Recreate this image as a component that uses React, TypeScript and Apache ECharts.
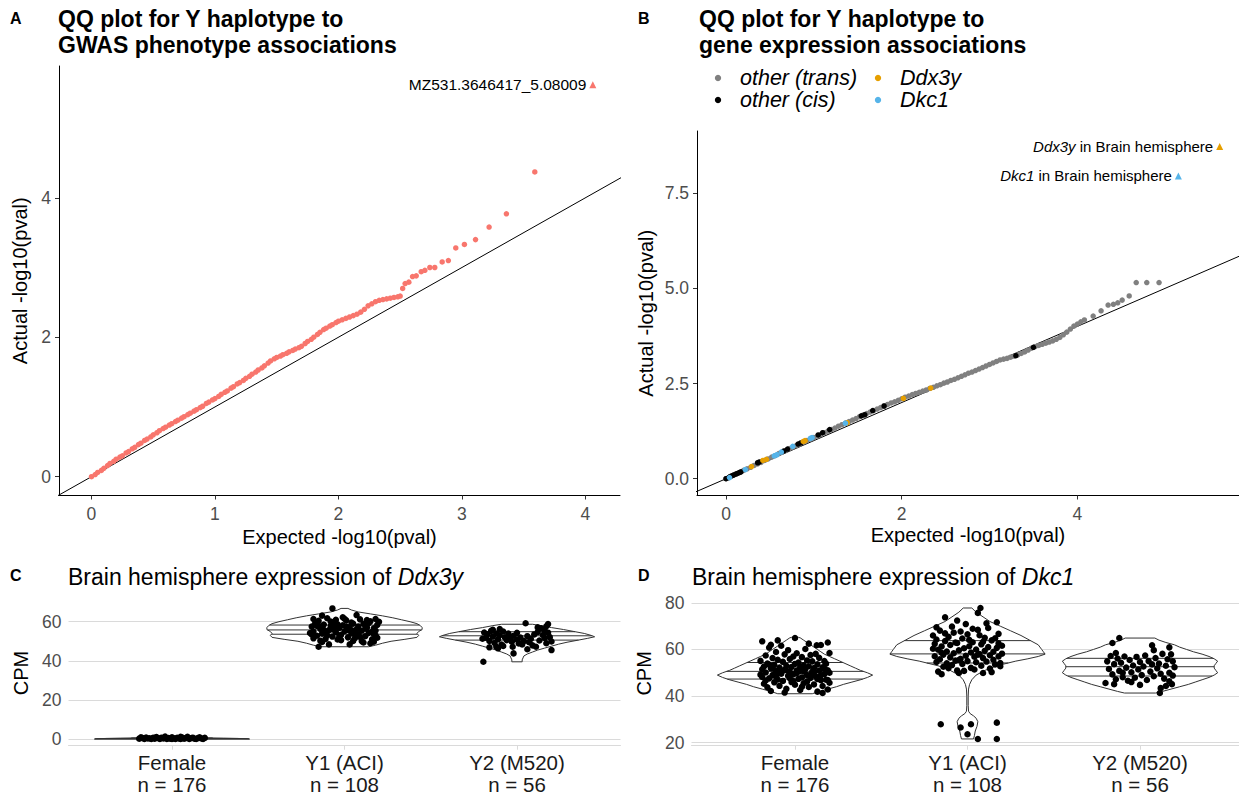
import React, { useEffect, useRef } from "react";
import * as echarts from "echarts";

const FONT = '"Liberation Sans", Arial, Helvetica, sans-serif';

// ---------- Panel A: QQ plot, GWAS phenotypes ([expected, actual]) ----------
const qqA: number[][] = [
  [0.00, 0.00], [0.03, 0.03], [0.05, 0.06], [0.08, 0.09], [0.10, 0.12], [0.13, 0.16], [0.15, 0.19], [0.18, 0.22],
  [0.20, 0.25], [0.23, 0.28], [0.25, 0.30], [0.28, 0.34], [0.30, 0.36], [0.33, 0.40], [0.35, 0.42], [0.38, 0.46],
  [0.40, 0.48], [0.43, 0.52], [0.45, 0.54], [0.48, 0.57], [0.50, 0.60], [0.53, 0.63], [0.55, 0.66], [0.58, 0.69],
  [0.60, 0.71], [0.63, 0.74], [0.65, 0.76], [0.68, 0.79], [0.70, 0.81], [0.73, 0.84], [0.75, 0.86], [0.78, 0.89],
  [0.80, 0.91], [0.83, 0.94], [0.85, 0.96], [0.88, 0.99], [0.90, 1.01], [0.93, 1.05], [0.95, 1.07], [0.98, 1.10],
  [1.00, 1.12], [1.03, 1.15], [1.05, 1.18], [1.08, 1.21], [1.10, 1.23], [1.13, 1.27], [1.15, 1.29], [1.18, 1.33],
  [1.20, 1.35], [1.23, 1.38], [1.25, 1.41], [1.28, 1.44], [1.30, 1.47], [1.33, 1.50], [1.35, 1.53], [1.38, 1.56],
  [1.40, 1.59], [1.43, 1.63], [1.45, 1.66], [1.48, 1.69], [1.50, 1.71], [1.53, 1.73], [1.55, 1.75], [1.58, 1.77],
  [1.60, 1.79], [1.63, 1.81], [1.65, 1.83], [1.68, 1.85], [1.70, 1.87], [1.73, 1.91], [1.75, 1.94], [1.78, 1.97],
  [1.80, 2.00], [1.83, 2.04], [1.85, 2.07], [1.88, 2.11], [1.90, 2.13], [1.93, 2.16], [1.95, 2.18], [1.98, 2.21],
  [2.00, 2.23], [2.03, 2.25], [2.06, 2.27], [2.09, 2.29], [2.12, 2.31], [2.15, 2.33], [2.18, 2.36], [2.21, 2.40],
  [2.24, 2.45], [2.27, 2.48], [2.30, 2.51], [2.33, 2.53], [2.36, 2.54], [2.39, 2.55], [2.42, 2.56], [2.45, 2.57],
  [2.48, 2.58], [2.50, 2.59],
  [2.52, 2.70], [2.54, 2.77], [2.57, 2.79], [2.60, 2.87], [2.63, 2.88], [2.67, 2.94], [2.70, 2.96], [2.74, 3.00],
  [2.78, 3.00], [2.84, 3.08], [2.89, 3.10], [2.95, 3.28], [3.02, 3.33], [3.11, 3.40], [3.22, 3.58], [3.36, 3.77],
  [3.59, 4.37],
];
const topA: number[] = [4.06, 5.62];
const topALabel = "MZ531.3646417_5.08009";

// ---------- Panel B: QQ plot, gene expression ----------
const qqBTrans: number[][] = [
  [0.00, 0.00], [0.04, 0.04], [0.08, 0.09], [0.12, 0.13], [0.16, 0.17], [0.20, 0.22], [0.24, 0.26], [0.28, 0.30],
  [0.32, 0.35], [0.36, 0.39], [0.40, 0.43], [0.44, 0.48], [0.48, 0.52], [0.52, 0.57], [0.56, 0.61], [0.60, 0.66],
  [0.64, 0.70], [0.68, 0.74], [0.72, 0.79], [0.76, 0.83], [0.80, 0.87], [0.84, 0.91], [0.88, 0.96], [0.92, 1.00],
  [0.96, 1.04], [1.00, 1.08], [1.04, 1.12], [1.08, 1.16], [1.12, 1.21], [1.16, 1.25], [1.20, 1.29], [1.24, 1.33],
  [1.28, 1.38], [1.32, 1.42], [1.36, 1.46], [1.40, 1.50], [1.44, 1.54], [1.48, 1.58], [1.52, 1.63], [1.56, 1.67],
  [1.60, 1.71], [1.64, 1.75], [1.68, 1.79], [1.72, 1.83], [1.76, 1.87], [1.80, 1.91], [1.84, 1.95], [1.88, 1.99],
  [1.92, 2.02], [1.96, 2.06], [2.00, 2.10], [2.04, 2.14], [2.08, 2.17], [2.12, 2.21], [2.16, 2.24], [2.20, 2.27],
  [2.24, 2.30], [2.28, 2.33], [2.32, 2.37], [2.36, 2.40], [2.40, 2.44], [2.44, 2.47], [2.48, 2.51], [2.52, 2.54],
  [2.56, 2.58], [2.60, 2.61], [2.64, 2.65], [2.68, 2.69], [2.72, 2.73], [2.76, 2.77], [2.80, 2.80], [2.84, 2.84],
  [2.88, 2.88], [2.92, 2.92], [2.96, 2.96], [3.00, 3.00], [3.04, 3.04], [3.08, 3.08], [3.12, 3.12], [3.16, 3.14],
  [3.20, 3.16], [3.24, 3.19], [3.28, 3.22], [3.32, 3.25], [3.36, 3.29], [3.40, 3.33], [3.44, 3.38], [3.48, 3.43],
  [3.52, 3.47], [3.56, 3.50], [3.60, 3.53], [3.64, 3.56], [3.68, 3.59], [3.72, 3.62], [3.76, 3.66], [3.80, 3.71],
  [3.84, 3.78], [3.88, 3.85], [3.92, 3.93], [3.96, 4.01], [4.00, 4.06], [4.04, 4.12], [4.08, 4.17],
  [4.18, 4.27], [4.27, 4.41], [4.35, 4.56], [4.41, 4.58], [4.46, 4.62], [4.51, 4.69], [4.59, 4.80],
  [4.67, 5.15], [4.79, 5.15], [4.93, 5.15],
];
const qqBCis: number[][] = [
  [0.00, 0.00], [0.03, 0.03], [0.05, 0.06], [0.07, 0.08], [0.09, 0.10], [0.11, 0.12], [0.13, 0.14], [0.15, 0.16],
  [0.17, 0.18], [0.36, 0.42], [0.38, 0.44], [0.66, 0.73], [0.70, 0.78], [0.82, 0.91], [0.85, 0.94], [1.05, 1.15],
  [1.10, 1.21], [1.18, 1.29], [1.54, 1.65], [1.58, 1.68], [1.67, 1.79], [1.80, 1.91], [3.30, 3.23], [3.50, 3.45],
];
const qqBDdx3y: number[][] = [
  [0.29, 0.32], [0.42, 0.48], [0.46, 0.51], [0.88, 0.98], [0.90, 1.00], [1.38, 1.47], [2.02, 2.11], [2.33, 2.38],
];
const qqBDkc1: number[][] = [
  [0.04, 0.03], [0.22, 0.24], [0.55, 0.60], [0.58, 0.63], [0.63, 0.70], [0.76, 0.85], [0.96, 1.06], [0.98, 1.08],
  [1.36, 1.46],
];
const topBDdx3y: number[] = [5.62, 8.72];
const topBDkc1: number[] = [5.15, 7.95];

// ---------- Panels C / D: violin + jitter ----------
const groups = ["Female", "Y1 (ACI)", "Y2 (M520)"];
const groupN = [176, 108, 56];

// violin outlines: [CPM value, half width (x units)]
const violinC: number[][][] = [
  [[0, 0.45], [0.2, 0.44], [0.45, 0.3], [0.7, 0.14], [1.0, 0.05], [1.4, 0.01]],
  [[47.2, 0.14], [48, 0.18], [49, 0.22], [50, 0.27], [51, 0.35], [52, 0.42], [53, 0.43], [54, 0.42], [55, 0.43],
   [56, 0.45], [57, 0.45], [58, 0.44], [59, 0.42], [60, 0.38], [61, 0.33], [62, 0.28], [63, 0.22], [64, 0.15],
   [65, 0.08], [66, 0.04], [66.8, 0.02]],
  [[39.5, 0.03], [40.5, 0.03], [41.5, 0.035], [42.5, 0.04], [43.5, 0.06], [44.5, 0.09], [45.5, 0.12], [46.5, 0.16],
   [47.5, 0.2], [48.5, 0.24], [49.5, 0.29], [50.5, 0.35], [51.5, 0.41], [52.3, 0.45], [53, 0.43], [54, 0.39],
   [55, 0.33], [56, 0.27], [57, 0.2], [58, 0.14], [58.7, 0.09]],
];
const quantC: number[][] = [[0.1, 0.3, 0.55], [53.6, 55.8, 58.3], [50.6, 52.8, 54.9]];

const violinD: number[][][] = [
  [[41, 0.1], [42, 0.14], [43, 0.19], [44, 0.24], [45, 0.28], [46, 0.33], [47, 0.38], [48, 0.42], [49, 0.45],
   [50, 0.42], [51, 0.38], [52, 0.35], [53, 0.32], [54, 0.29], [55, 0.26], [56, 0.23], [57, 0.2], [58, 0.17],
   [59, 0.15], [60, 0.13], [61, 0.11], [62, 0.09], [63, 0.07], [64, 0.05], [65, 0.03], [65.2, 0.02]],
  [[21.6, 0.035], [23, 0.04], [25, 0.045], [27, 0.055], [29, 0.06], [30.5, 0.05], [31.5, 0.035], [32.5, 0.015],
   [33.5, 0.006], [36, 0.004], [40, 0.004], [43, 0.006], [45, 0.012], [47, 0.025], [49, 0.05], [51, 0.1],
   [53, 0.17], [55, 0.28], [56, 0.35], [57, 0.41], [58, 0.45], [59, 0.44], [60, 0.43], [62, 0.41], [64, 0.36],
   [66, 0.31], [68, 0.25], [70, 0.19], [72, 0.13], [74, 0.09], [76, 0.05], [77.8, 0.025]],
  [[41.3, 0.09], [42, 0.13], [43, 0.18], [44, 0.23], [45, 0.28], [46, 0.32], [47, 0.36], [48, 0.4], [49, 0.43],
   [50, 0.45], [51, 0.44], [52, 0.43], [53, 0.43], [54, 0.44], [55, 0.45], [56, 0.43], [57, 0.4], [58, 0.36],
   [59, 0.31], [60, 0.27], [61, 0.23], [62, 0.2], [63, 0.15], [64, 0.11], [64.9, 0.086]],
];
const quantD: number[][] = [[47.3, 50.6, 54.4], [54.2, 58.1, 63.8], [48.6, 52.6, 56.2]];

// jittered points: [x offset from group centre, CPM]
const femaleC: number[][] = [
  [-0.19, 0.2], [-0.17, 0.5], [-0.16, 0.1], [-0.15, 0.8], [-0.14, 0.3], [-0.12, 0.0], [-0.11, 0.6], [-0.1, 0.2],
  [-0.09, 1.0], [-0.08, 0.4], [-0.07, 0.1], [-0.06, 0.7], [-0.05, 0.3], [-0.04, 1.3], [-0.03, 0.0], [-0.02, 0.5],
  [-0.01, 0.2], [0.0, 0.9], [0.01, 0.4], [0.02, 0.1], [0.03, 0.6], [0.04, 0.3], [0.05, 0.0], [0.06, 0.8],
  [0.07, 0.2], [0.08, 0.5], [0.09, 1.1], [0.1, 0.1], [0.11, 0.4], [0.12, 0.7], [0.13, 0.2], [0.14, 0.0],
  [0.15, 0.5], [0.16, 0.9], [0.17, 0.3], [0.18, 0.1], [0.19, 0.6], [-0.18, 0.9], [-0.13, 0.4], [0.0, 0.0],
  [0.05, 1.2], [-0.1, 0.6],
];
const y1C: number[][] = [
  [-0.07, 66.8], [-0.15, 47.2], [-0.09, 48.4], [0.03, 48.4], [-0.18, 61.4], [-0.13, 63.1], [0.07, 63.4], [0.18, 61.4],
  [0.2, 60.0], [0.15, 49.0], [0.17, 49.8],
  [-0.19, 57.5], [-0.18, 55.0], [-0.17, 59.2], [-0.16, 52.8], [-0.15, 60.5], [-0.14, 56.3], [-0.13, 53.9], [-0.12, 58.6],
  [-0.11, 51.2], [-0.1, 61.8], [-0.09, 55.7], [-0.08, 57.9], [-0.07, 52.4], [-0.06, 59.8], [-0.05, 54.6], [-0.04, 50.9],
  [-0.03, 56.8], [-0.02, 53.3], [-0.01, 58.2], [0.0, 55.1], [0.01, 60.7], [0.02, 52.0], [0.03, 57.3], [0.04, 54.0],
  [0.05, 59.0], [0.06, 51.6], [0.07, 56.1], [0.08, 53.6], [0.09, 61.2], [0.1, 55.4], [0.11, 58.9], [0.12, 52.6],
  [0.13, 57.0], [0.14, 54.3], [0.15, 60.2], [0.16, 51.0], [0.17, 56.6], [0.18, 53.1], [0.19, 58.4],
  [-0.2, 54.2], [-0.18, 51.5], [-0.16, 57.8], [-0.14, 50.3], [-0.12, 55.9], [-0.1, 53.0], [-0.08, 60.1], [-0.06, 56.9],
  [-0.04, 58.7], [-0.02, 50.6], [0.0, 61.5], [0.02, 55.8], [0.04, 59.6], [0.06, 53.8], [0.08, 57.6], [0.1, 50.1],
  [0.12, 56.4], [0.14, 59.3], [0.16, 54.8], [0.18, 55.5],
  [-0.19, 53.5], [-0.15, 58.0], [-0.11, 54.9], [-0.07, 56.0], [-0.03, 52.7], [0.01, 57.5], [0.05, 55.3], [0.09, 52.2],
  [0.13, 60.9], [0.17, 53.7], [-0.13, 49.6], [-0.01, 62.3], [0.11, 49.4], [0.19, 51.8], [-0.05, 61.0], [0.05, 50.2],
];
const y2C: number[][] = [
  [-0.195, 39.5], [0.05, 59.2], [0.12, 57.1], [0.18, 58.8], [0.16, 55.8], [0.15, 53.2], [0.17, 49.0], [0.2, 45.5],
  [-0.02, 43.8], [-0.025, 47.2], [0.03, 48.4], [0.11, 47.2], [-0.11, 46.4], [-0.12, 47.2],
  [-0.19, 54.5], [-0.18, 51.8], [-0.17, 53.6], [-0.16, 50.2], [-0.15, 55.3], [-0.14, 52.4], [-0.13, 49.1], [-0.12, 54.0],
  [-0.11, 51.0], [-0.1, 53.1], [-0.09, 48.3], [-0.08, 55.0], [-0.07, 52.0], [-0.06, 50.6], [-0.05, 53.9], [-0.04, 51.5],
  [-0.03, 49.8], [-0.02, 52.8], [0.0, 50.9], [0.01, 48.9], [0.02, 51.9], [0.04, 50.1], [0.06, 52.6], [0.07, 49.5],
  [0.08, 51.2], [0.09, 47.9], [0.1, 53.5], [0.13, 50.4], [0.14, 56.6], [0.16, 51.7], [0.18, 54.4], [0.19, 52.1],
  [-0.2, 51.3], [-0.16, 46.9], [-0.14, 55.9], [-0.08, 47.6], [0.0, 54.3], [0.06, 45.9], [0.12, 54.7], [0.17, 57.7],
  [0.2, 49.9], [-0.1, 56.2],
];
const femaleD: number[][] = [
  [-0.19, 63.5], [0.0, 64.9], [0.19, 63.0], [-0.1, 63.9], [0.126, 61.8], [0.2, 58.5],
  [-0.2, 55.1], [-0.19, 48.2], [-0.18, 52.7], [-0.18, 45.3], [-0.17, 57.4], [-0.17, 50.1], [-0.16, 43.8], [-0.16, 54.0],
  [-0.15, 47.6], [-0.15, 60.8], [-0.14, 51.9], [-0.14, 42.2], [-0.13, 56.3], [-0.13, 49.0], [-0.12, 53.4], [-0.12, 45.9],
  [-0.11, 58.9], [-0.11, 50.7], [-0.1, 47.1], [-0.1, 55.6], [-0.09, 52.2], [-0.09, 44.4], [-0.08, 61.6], [-0.08, 49.6],
  [-0.07, 54.7], [-0.07, 46.5], [-0.06, 51.3], [-0.06, 57.9], [-0.05, 43.1], [-0.05, 53.0], [-0.04, 48.7], [-0.04, 59.7],
  [-0.03, 50.4], [-0.03, 55.9], [-0.02, 46.0], [-0.02, 52.5], [-0.01, 57.0], [-0.01, 49.3], [0.0, 53.8], [0.0, 44.9],
  [0.01, 51.0], [0.01, 58.4], [0.02, 47.4], [0.02, 54.4], [0.03, 42.6], [0.03, 50.8], [0.04, 56.7], [0.04, 48.0],
  [0.05, 53.2], [0.05, 45.5], [0.06, 60.2], [0.06, 51.6], [0.07, 49.0], [0.07, 55.3], [0.08, 43.9], [0.08, 52.8],
  [0.09, 57.6], [0.09, 47.8], [0.1, 50.5], [0.1, 54.9], [0.11, 45.0], [0.11, 52.0], [0.12, 58.1], [0.12, 48.5],
  [0.13, 53.6], [0.13, 41.9], [0.14, 50.9], [0.14, 56.4], [0.15, 46.8], [0.15, 61.9], [0.16, 52.3], [0.16, 44.3],
  [0.17, 55.0], [0.17, 49.4], [0.18, 47.0], [0.18, 53.9], [0.19, 51.1], [0.19, 42.8], [0.2, 50.0], [0.2, 45.7],
  [-0.19, 51.5], [-0.15, 53.5], [-0.11, 48.4], [-0.07, 50.9], [-0.03, 47.7], [0.01, 49.8], [0.05, 50.6], [0.09, 49.1],
  [0.13, 47.3], [0.17, 51.8], [-0.17, 46.7], [-0.13, 52.0], [-0.09, 49.9], [-0.05, 51.1], [-0.01, 46.4], [0.03, 52.4],
  [0.07, 46.2], [0.11, 50.2], [0.15, 48.9], [0.19, 46.9], [-0.14, 62.0], [0.08, 62.5], [-0.06, 41.5], [0.16, 41.3],
  [-0.2, 49.2], [0.04, 44.0],
];
const y1D: number[][] = [
  [-0.155, 27.9], [-0.04, 26.5], [0.0, 23.6], [0.02, 27.9], [0.06, 21.6], [0.17, 28.6], [0.17, 21.6],
  [0.075, 77.8], [0.06, 75.7], [-0.13, 73.8], [-0.06, 72.4], [0.17, 71.7], [0.12, 69.2], [0.18, 66.7], [-0.18, 69.5],
  [-0.15, 49.4], [-0.05, 49.9], [0.09, 49.9],
  [-0.2, 66.0], [-0.19, 62.4], [-0.19, 57.1], [-0.18, 64.3], [-0.18, 54.6], [-0.17, 59.9], [-0.16, 68.1], [-0.16, 55.8],
  [-0.15, 61.3], [-0.14, 57.8], [-0.14, 52.6], [-0.13, 63.6], [-0.12, 59.1], [-0.12, 54.1], [-0.11, 65.4], [-0.1, 56.6],
  [-0.1, 61.9], [-0.09, 53.3], [-0.08, 58.4], [-0.08, 67.2], [-0.07, 55.2], [-0.06, 62.8], [-0.06, 51.0], [-0.05, 59.6],
  [-0.04, 56.0], [-0.03, 64.7], [-0.03, 53.8], [-0.02, 60.5], [-0.01, 57.3], [0.0, 66.5], [0.0, 55.0], [0.01, 61.4],
  [0.02, 58.7], [0.02, 52.1], [0.03, 63.1], [0.04, 56.9], [0.05, 60.0], [0.05, 54.5], [0.06, 68.4], [0.07, 58.0],
  [0.08, 62.2], [0.08, 53.0], [0.09, 56.3], [0.1, 65.0], [0.1, 59.4], [0.11, 54.8], [0.12, 61.0], [0.13, 57.5],
  [0.13, 51.8], [0.14, 63.9], [0.15, 55.6], [0.15, 59.0], [0.16, 53.6], [0.17, 60.7], [0.18, 57.0], [0.18, 62.6],
  [0.19, 54.2], [0.2, 58.2], [-0.17, 50.5], [-0.11, 52.0], [-0.02, 50.8], [0.04, 51.4], [0.14, 50.3], [0.19, 52.8],
  [-0.09, 69.8], [-0.01, 70.9], [0.03, 68.9], [0.11, 71.2], [-0.13, 66.9], [-0.04, 67.7], [0.07, 66.1], [0.16, 64.8],
  [-0.2, 60.3], [0.2, 61.6], [-0.07, 63.0], [0.01, 64.1], [0.09, 63.3], [-0.15, 58.6], [0.06, 57.8], [-0.05, 55.5],
];
const y2D: number[][] = [
  [-0.12, 64.9], [-0.16, 62.8], [0.07, 61.8], [0.17, 60.9], [-0.2, 45.6], [-0.15, 45.1], [0.115, 41.3], [0.12, 43.4],
  [0.185, 45.1],
  [-0.19, 54.9], [-0.18, 51.6], [-0.17, 57.2], [-0.16, 49.3], [-0.15, 53.7], [-0.14, 47.2], [-0.13, 56.1], [-0.12, 50.8],
  [-0.11, 54.3], [-0.1, 48.1], [-0.09, 57.0], [-0.08, 52.2], [-0.07, 46.6], [-0.06, 55.5], [-0.05, 50.2], [-0.04, 53.1],
  [-0.03, 47.9], [-0.02, 56.8], [-0.01, 51.4], [0.0, 54.6], [0.01, 49.0], [0.02, 52.7], [0.03, 57.4], [0.04, 46.9],
  [0.05, 55.0], [0.06, 50.5], [0.07, 53.6], [0.08, 48.5], [0.09, 56.3], [0.1, 51.9], [0.11, 54.0], [0.12, 49.6],
  [0.13, 58.1], [0.14, 47.5], [0.15, 53.0], [0.16, 55.8], [0.17, 50.0], [0.18, 57.9], [0.19, 48.8], [0.2, 52.4],
  [-0.14, 58.5], [0.0, 44.8], [0.15, 44.3], [-0.05, 46.0], [0.08, 59.7], [0.19, 54.9], [0.17, 46.3], [-0.1, 50.0],
];
const pointsC = [femaleC, y1C, y2C];
const pointsD = [femaleD, y1D, y2D];

const qqTicksA = [0, 1, 2, 3, 4];
const qqYTicksA = [0, 2, 4];
const qqTicksB = [0, 2, 4];
const qqYTicksB = [0, 2.5, 5, 7.5];
const cpmTicksC = [0, 20, 40, 60];
const cpmTicksD = [20, 40, 60, 80];

const COL_A = "#F8766D";
const COL_TRANS = "#808080";
const COL_CIS = "#000000";
const COL_DDX = "#E69F00";
const COL_DKC = "#56B4E9";

function interpWidth(prof: number[][], q: number): number {
  for (let k = 0; k < prof.length - 1; k++) {
    const [v0, w0] = prof[k];
    const [v1, w1] = prof[k + 1];
    if (q >= v0 && q <= v1) return w0 + ((w1 - w0) * (q - v0)) / (v1 - v0);
  }
  return 0;
}

function violinRender(profiles: number[][][], quants: number[][]) {
  return (params: any, api: any) => {
    const i = params.dataIndex;
    const c = api.value(0);
    const prof = profiles[i];
    const right = prof.map(([v, w]) => api.coord([c + w, v]));
    const left = prof.slice().reverse().map(([v, w]) => api.coord([c - w, v]));
    const children: any[] = [
      {
        type: "polygon",
        shape: { points: right.concat(left) },
        style: { fill: "#ffffff", stroke: "#333333", lineWidth: 1 },
      },
    ];
    quants[i].forEach((q) => {
      const w = interpWidth(prof, q);
      const p1 = api.coord([c - w, q]);
      const p2 = api.coord([c + w, q]);
      children.push({
        type: "line",
        shape: { x1: p1[0], y1: p1[1], x2: p2[0], y2: p2[1] },
        style: { stroke: "#333333", lineWidth: 1 },
      });
    });
    return { type: "group", children };
  };
}

function jitter(pts: number[][][]): number[][] {
  const out: number[][] = [];
  pts.forEach((g, gi) => g.forEach(([dx, v]) => out.push([gi + 1 + dx, v])));
  return out;
}

const TICK_FS = 17.5;
const AXTITLE_FS = 20;

function qqX(gi: number, min: number, max: number, ticks: number[]) {
  return {
    type: "value", gridIndex: gi, min, max,
    axisLine: { show: true, onZero: false, lineStyle: { color: "#000", width: 1 } },
    axisTick: { show: true, length: 4, customValues: ticks, lineStyle: { color: "#333", width: 1 } },
    axisLabel: { customValues: ticks, fontSize: TICK_FS, color: "#4D4D4D", margin: 9, fontFamily: FONT },
    splitLine: { show: false },
    name: "Expected -log10(pval)", nameLocation: "middle", nameGap: 29,
    nameTextStyle: { fontSize: AXTITLE_FS, color: "#000", fontFamily: FONT },
  };
}
function qqY(gi: number, min: number, max: number, ticks: number[], fmt: (v: number) => string, gap: number) {
  return {
    type: "value", gridIndex: gi, min, max,
    axisLine: { show: true, onZero: false, lineStyle: { color: "#000", width: 1 } },
    axisTick: { show: true, length: 4, customValues: ticks, lineStyle: { color: "#333", width: 1 } },
    axisLabel: { customValues: ticks, formatter: fmt, fontSize: TICK_FS, color: "#4D4D4D", margin: 8, fontFamily: FONT },
    splitLine: { show: false },
    name: "Actual -log10(pval)", nameLocation: "middle", nameGap: gap,
    nameTextStyle: { fontSize: AXTITLE_FS, color: "#000", fontFamily: FONT },
  };
}
function catX(gi: number) {
  return {
    type: "value", gridIndex: gi, min: 0.4, max: 3.6,
    axisLine: { show: true, onZero: false, lineStyle: { color: "#DADADA", width: 1 } },
    axisTick: { show: true, length: 4, customValues: [1, 2, 3], lineStyle: { color: "#DADADA", width: 1 } },
    axisLabel: {
      customValues: [1, 2, 3],
      formatter: (v: number) => `${groups[Math.round(v) - 1]}\nn = ${groupN[Math.round(v) - 1]}`,
      fontSize: 20.5, lineHeight: 22, color: "#1A1A1A", margin: 6, fontFamily: FONT,
    },
    splitLine: { show: false },
  };
}
function cpmY(gi: number, min: number, max: number, ticks: number[]) {
  return {
    type: "value", gridIndex: gi, min, max,
    axisLine: { show: false },
    axisTick: { show: false, customValues: ticks },
    axisLabel: { customValues: ticks, fontSize: TICK_FS, color: "#4D4D4D", margin: 7, fontFamily: FONT },
    splitLine: { show: true, lineStyle: { color: "#DADADA", width: 1 } },
    name: "CPM", nameLocation: "middle", nameGap: 38,
    nameTextStyle: { fontSize: 20, color: "#000", fontFamily: FONT },
  };
}

function txt(x: number, y: number, text: string, extra: any = {}) {
  return {
    type: "text", x, y, silent: true,
    style: { text, fontFamily: FONT, fill: "#000", verticalAlign: "middle", ...extra },
  };
}

function buildOption(): any {
  const diag = [[-1, -1], [10, 10]];
  const dot = (color: string) => ({ color, opacity: 1 });
  return {
    animation: false,
    backgroundColor: "#ffffff",
    textStyle: { fontFamily: FONT },
    grid: [
      { left: 59, top: 66, width: 561, height: 429.5, outerBoundsMode: "none" },
      { left: 697, top: 131, width: 542, height: 364.5, outerBoundsMode: "none" },
      { left: 68.5, top: 600.4, width: 552, height: 145.3, outerBoundsMode: "none" },
      { left: 691.5, top: 601, width: 552, height: 144.7, outerBoundsMode: "none" },
    ],
    xAxis: [
      qqX(0, -0.263, 4.28, qqTicksA),
      qqX(1, -0.33, 5.84, qqTicksB),
      catX(2),
      catX(3),
    ],
    yAxis: [
      qqY(0, -0.27, 5.89, qqYTicksA, (v: number) => String(v), 29),
      qqY(1, -0.44, 9.13, qqYTicksB, (v: number) => v.toFixed(1), 41),
      cpmY(2, -3.4, 70.9, cpmTicksC),
      cpmY(3, 18.7, 80.8, cpmTicksD),
    ],
    series: [
      // Panel A
      { type: "line", xAxisIndex: 0, yAxisIndex: 0, data: diag, symbol: "none", clip: true,
        lineStyle: { color: "#000", width: 1 }, z: 1, silent: true },
      { type: "scatter", xAxisIndex: 0, yAxisIndex: 0, data: qqA, symbolSize: 5.5,
        itemStyle: dot(COL_A), z: 3, silent: true },
      { type: "scatter", xAxisIndex: 0, yAxisIndex: 0, data: [topA], symbol: "triangle", symbolSize: 7,
        itemStyle: dot(COL_A), z: 3, silent: true,
        label: { show: true, position: "left", distance: 3, formatter: topALabel, fontSize: 15.5, color: "#000", fontFamily: FONT } },
      // Panel B
      { type: "line", xAxisIndex: 1, yAxisIndex: 1, data: diag, symbol: "none", clip: true,
        lineStyle: { color: "#000", width: 1 }, z: 1, silent: true },
      { type: "scatter", xAxisIndex: 1, yAxisIndex: 1, data: qqBTrans, symbolSize: 5.5,
        itemStyle: dot(COL_TRANS), z: 3, silent: true },
      { type: "scatter", xAxisIndex: 1, yAxisIndex: 1, data: qqBCis, symbolSize: 5.5,
        itemStyle: dot(COL_CIS), z: 4, silent: true },
      { type: "scatter", xAxisIndex: 1, yAxisIndex: 1, data: qqBDdx3y, symbolSize: 5.5,
        itemStyle: dot(COL_DDX), z: 5, silent: true },
      { type: "scatter", xAxisIndex: 1, yAxisIndex: 1, data: qqBDkc1, symbolSize: 5.5,
        itemStyle: dot(COL_DKC), z: 6, silent: true },
      { type: "scatter", xAxisIndex: 1, yAxisIndex: 1, data: [topBDdx3y], symbol: "triangle", symbolSize: 7,
        itemStyle: dot(COL_DDX), z: 6, silent: true,
        label: { show: true, position: "left", distance: 3, formatter: "{i|Ddx3y} in Brain hemisphere",
          fontSize: 15, color: "#000", fontFamily: FONT,
          rich: { i: { fontStyle: "italic", fontSize: 15, color: "#000", fontFamily: FONT } } } },
      { type: "scatter", xAxisIndex: 1, yAxisIndex: 1, data: [topBDkc1], symbol: "triangle", symbolSize: 7,
        itemStyle: dot(COL_DKC), z: 6, silent: true,
        label: { show: true, position: "left", distance: 3, formatter: "{i|Dkc1} in Brain hemisphere",
          fontSize: 15, color: "#000", fontFamily: FONT,
          rich: { i: { fontStyle: "italic", fontSize: 15, color: "#000", fontFamily: FONT } } } },
      // Panel C
      { type: "custom", xAxisIndex: 2, yAxisIndex: 2, renderItem: violinRender(violinC, quantC),
        data: [[1, 0], [2, 55], [3, 52]], encode: { x: 0, y: 1 }, z: 2, silent: true },
      { type: "scatter", xAxisIndex: 2, yAxisIndex: 2, data: jitter(pointsC), symbolSize: 6.5,
        itemStyle: dot("#000"), z: 3, silent: true },
      // Panel D
      { type: "custom", xAxisIndex: 3, yAxisIndex: 3, renderItem: violinRender(violinD, quantD),
        data: [[1, 50], [2, 58], [3, 52]], encode: { x: 0, y: 1 }, z: 2, silent: true },
      { type: "scatter", xAxisIndex: 3, yAxisIndex: 3, data: jitter(pointsD), symbolSize: 6.5,
        itemStyle: dot("#000"), z: 3, silent: true },
    ],
    graphic: [
      txt(10, 18, "A", { fontSize: 16, fontWeight: "bold" }),
      txt(638, 18, "B", { fontSize: 16, fontWeight: "bold" }),
      txt(10, 575, "C", { fontSize: 16, fontWeight: "bold" }),
      txt(638, 575, "D", { fontSize: 16, fontWeight: "bold" }),
      { type: "text", x: 58, y: 6, silent: true,
        style: { text: "QQ plot for Y haplotype to\nGWAS phenotype associations", fontFamily: FONT, fontSize: 23,
          fontWeight: "bold", lineHeight: 26, fill: "#000", verticalAlign: "top" } },
      { type: "text", x: 699, y: 6, silent: true,
        style: { text: "QQ plot for Y haplotype to\ngene expression associations", fontFamily: FONT, fontSize: 23,
          fontWeight: "bold", lineHeight: 26, fill: "#000", verticalAlign: "top" } },
      { type: "text", x: 68, y: 577, silent: true,
        style: { text: "{n|Brain hemisphere expression of }{i|Ddx3y}", verticalAlign: "middle", fill: "#000",
          rich: { n: { fontSize: 23, fontFamily: FONT, fill: "#000" },
            i: { fontSize: 23, fontFamily: FONT, fontStyle: "italic", fill: "#000" } } } },
      { type: "text", x: 692, y: 577, silent: true,
        style: { text: "{n|Brain hemisphere expression of }{i|Dkc1}", verticalAlign: "middle", fill: "#000",
          rich: { n: { fontSize: 23, fontFamily: FONT, fill: "#000" },
            i: { fontSize: 23, fontFamily: FONT, fontStyle: "italic", fill: "#000" } } } },
      // legend of panel B
      { type: "circle", silent: true, shape: { cx: 718, cy: 78, r: 3.2 }, style: { fill: COL_TRANS } },
      { type: "circle", silent: true, shape: { cx: 718, cy: 100, r: 3.2 }, style: { fill: COL_CIS } },
      { type: "circle", silent: true, shape: { cx: 878, cy: 78, r: 3.2 }, style: { fill: COL_DDX } },
      { type: "circle", silent: true, shape: { cx: 878, cy: 100, r: 3.2 }, style: { fill: COL_DKC } },
      txt(740, 78, "other (trans)", { fontSize: 21.5, fontStyle: "italic" }),
      txt(740, 100, "other (cis)", { fontSize: 21.5, fontStyle: "italic" }),
      txt(900, 78, "Ddx3y", { fontSize: 21.5, fontStyle: "italic" }),
      txt(900, 100, "Dkc1", { fontSize: 21.5, fontStyle: "italic" }),
    ],
  };
}

export default function App() {
  const ref = useRef<HTMLDivElement>(null);
  useEffect(() => {
    if (!ref.current) return;
    const chart = echarts.init(ref.current, null, { renderer: "svg" });
    chart.setOption(buildOption());
    return () => chart.dispose();
  }, []);
  return (
    <div
      ref={ref}
      style={{ position: "absolute", left: 0, top: 0, width: 1239, height: 799, background: "#ffffff" }}
    />
  );
}
